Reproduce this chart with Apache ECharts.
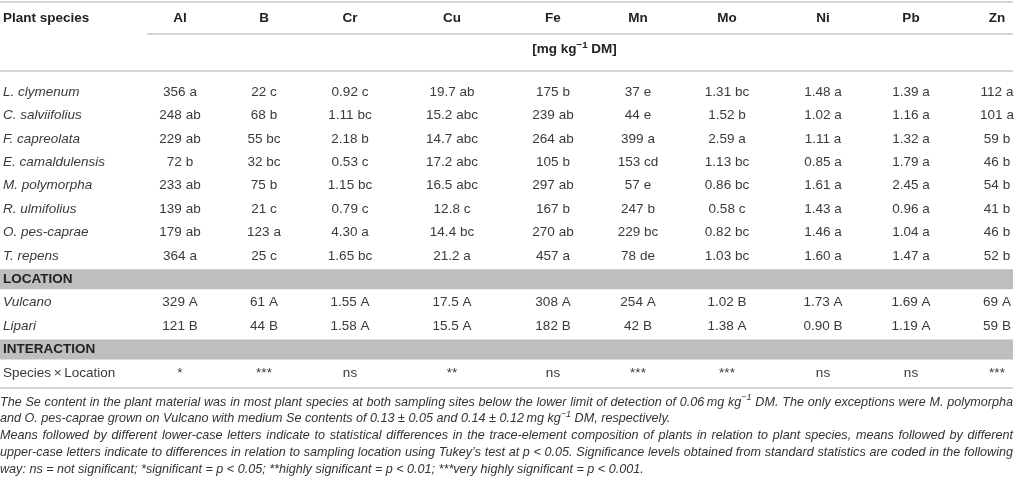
<!DOCTYPE html>
<html><head><meta charset="utf-8">
<script src="https://cdn.jsdelivr.net/npm/echarts@6/dist/echarts.min.js"></script>
<style>html,body{margin:0;padding:0;background:#fff}#c{width:1016px;height:490px}</style>
</head><body><div id="c"></div>
<script>
// ---------------- data ----------------
const headerLabel = 'Plant species';
const elements = ['Al','B','Cr','Cu','Fe','Mn','Mo','Ni','Pb','Zn'];
const unitSegments = [['[mg kg',''],['−1','sup'],[' DM]','']];
const species = ['L. clymenum','C. salviifolius','F. capreolata','E. camaldulensis','M. polymorpha','R. ulmifolius','O. pes-caprae','T. repens'];
const speciesValues = [
  ['356 a','22 c','0.92 c','19.7 ab','175 b','37 e','1.31 bc','1.48 a','1.39 a','112 a'],
  ['248 ab','68 b','1.11 bc','15.2 abc','239 ab','44 e','1.52 b','1.02 a','1.16 a','101 a'],
  ['229 ab','55 bc','2.18 b','14.7 abc','264 ab','399 a','2.59 a','1.11 a','1.32 a','59 b'],
  ['72 b','32 bc','0.53 c','17.2 abc','105 b','153 cd','1.13 bc','0.85 a','1.79 a','46 b'],
  ['233 ab','75 b','1.15 bc','16.5 abc','297 ab','57 e','0.86 bc','1.61 a','2.45 a','54 b'],
  ['139 ab','21 c','0.79 c','12.8 c','167 b','247 b','0.58 c','1.43 a','0.96 a','41 b'],
  ['179 ab','123 a','4.30 a','14.4 bc','270 ab','229 bc','0.82 bc','1.46 a','1.04 a','46 b'],
  ['364 a','25 c','1.65 bc','21.2 a','457 a','78 de','1.03 bc','1.60 a','1.47 a','52 b']
];
const sectionTitles = ['LOCATION','INTERACTION'];
const locations = ['Vulcano','Lipari'];
const locationValues = [
  ['329 A','61 A','1.55 A','17.5 A','308 A','254 A','1.02 B','1.73 A','1.69 A','69 A'],
  ['121 B','44 B','1.58 A','15.5 A','182 B','42 B','1.38 A','0.90 B','1.19 A','59 B']
];
const interactionLabel = 'Species\u2009×\u2009Location';
const interactionValues = ['*','***','ns','**','ns','***','***','ns','ns','***'];
const footnoteLines = [
  'The Se content in the plant material was in most plant species at both sampling sites below the lower limit of detection of 0.06\u2009mg kg^{−1} DM. The only exceptions were M. polymorpha',
  'and O. pes-caprae grown on Vulcano with medium Se contents of 0.13 ± 0.05 and 0.14 ± 0.12\u2009mg kg^{−1} DM, respectively.',
  'Means followed by different lower-case letters indicate to statistical differences in the trace-element composition of plants in relation to plant species, means followed by different',
  'upper-case letters indicate to differences in relation to sampling location using Tukey\u2019s test at p < 0.05. Significance levels obtained from standard statistics are coded in the following',
  'way: ns = not significant; *significant = p < 0.05; **highly significant = p < 0.01; ***very highly significant = p < 0.001.'
];

// ---------------- layout / style ----------------
const FAM = '"Liberation Sans", Arial, Helvetica, sans-serif';
const FS = 13.5;
const W = 1016;
const colWidths = [136, 88, 80, 92, 112, 90, 80, 98, 94, 82, 90];
const tableRight = 1013;
const rowH = 23.4, bodyTop = 80.3;
const footTop = 402, footStep = 16.75, footFS = 12.6;
const footJustify = [true, false, true, true, false];
const textColor = '#3a3a3a', headColor = '#222', ruleColor = '#c6c6c6', bandColor = '#bdbec0';

const colEdges = [0];
colWidths.forEach(w => colEdges.push(colEdges[colEdges.length - 1] + w));
const colCenters = elements.map((_, i) => (colEdges[i + 1] + colEdges[i + 2]) / 2);

const rowNames = [...species, sectionTitles[0], ...locations, sectionTitles[1], interactionLabel];
const bodyRows = [];
species.forEach((s, i) => bodyRows.push(speciesValues[i]));
bodyRows.push(null);
locations.forEach((s, i) => bodyRows.push(locationValues[i]));
bodyRows.push(null);
bodyRows.push(interactionValues);

const cellData = [], cellText = [], bandData = [];
bodyRows.forEach((vals, r) => {
  if (!vals) { bandData.push([0, r]); return; }
  vals.forEach((t, c) => { cellData.push([colCenters[c], r]); cellText.push(t); });
});
const headData = elements.map((e, c) => [colCenters[c], 0]);

// ---------------- measurement helpers ----------------
const mctx = document.createElement('canvas').getContext('2d');
function mw(text, font) { mctx.font = font; return mctx.measureText(text).width; }

function runElements(segs, x, y, opts) {
  const base = `${opts.style} ${opts.weight} ${opts.size}px ${FAM}`;
  const sup = `${opts.style} ${opts.weight} ${opts.size * 0.72}px ${FAM}`;
  const out = [];
  let cx = x;
  segs.forEach(([t, k]) => {
    const f = k === 'sup' ? sup : base;
    out.push({ type: 'text', x: cx, y: k === 'sup' ? y - opts.size * 0.33 : y,
      style: { text: t, font: f, fill: opts.color, align: 'left', verticalAlign: 'middle' } });
    cx += mw(t, f);
  });
  return { els: out, width: cx - x };
}
function parseWord(w) {
  const segs = [];
  const re = /\^\{([^}]*)\}/g; let last = 0, m;
  while ((m = re.exec(w))) {
    if (m.index > last) segs.push([w.slice(last, m.index), '']);
    segs.push([m[1], 'sup']); last = re.lastIndex;
  }
  if (last < w.length) segs.push([w.slice(last), '']);
  return segs;
}

const footOpts = { style: 'italic', weight: 'normal', size: footFS, color: '#333' };
const footEls = [];
footnoteLines.forEach((line, i) => {
  const y = footTop + i * footStep;
  const words = line.split(' ').map(parseWord);
  const widths = words.map(s => runElements(s, 0, 0, footOpts).width);
  const sumW = widths.reduce((a, b) => a + b, 0);
  const baseFont = `italic normal ${footFS}px ${FAM}`;
  const sp = mw(' ', baseFont);
  const gap = footJustify[i] ? Math.max(sp * 0.6, (tableRight - sumW) / (words.length - 1)) : sp;
  let x = 0;
  words.forEach((s, k) => {
    footEls.push(...runElements(s, x, y, footOpts).els);
    x += widths[k] + gap;
  });
});

const unitOpts = { style: 'normal', weight: 'bold', size: FS, color: headColor };

function rule(y, x1, x2) {
  return { type: 'line', shape: { x1, y1: y, x2, y2: y }, style: { stroke: ruleColor, lineWidth: 1.6 }, silent: true };
}

const chart = echarts.init(document.getElementById('c'), null, { renderer: 'canvas' });
const labelRich = {
  it: { fontStyle: 'italic', fontSize: FS, fontFamily: FAM, color: textColor },
  b: { fontWeight: 'bold', fontSize: FS, fontFamily: FAM, color: headColor },
  n: { fontSize: FS, fontFamily: FAM, color: textColor }
};
const hiddenAxis = { axisLine: { show: false }, axisTick: { show: false }, splitLine: { show: false } };

chart.setOption({
  animation: false,
  grid: [
    { left: 0, top: 3, width: W, height: 62 },
    { left: 0, top: bodyTop, width: W, height: rowH * rowNames.length }
  ],
  xAxis: [
    { gridIndex: 0, type: 'value', min: 0, max: W, show: false },
    { gridIndex: 1, type: 'value', min: 0, max: W, show: false }
  ],
  yAxis: [
    { gridIndex: 0, type: 'category', inverse: true, data: [headerLabel, ''], ...hiddenAxis,
      axisLabel: { inside: true, margin: 3, align: 'left', interval: 0,
        formatter: v => v ? `{b|${v}}` : '', rich: labelRich } },
    { gridIndex: 1, type: 'category', inverse: true, data: rowNames, z: 10, ...hiddenAxis,
      axisLabel: { inside: true, margin: 3, align: 'left', interval: 0,
        formatter: v => sectionTitles.includes(v) ? `{b|${v}}` : (v === interactionLabel ? `{n|${v}}` : `{it|${v}}`),
        rich: labelRich } }
  ],
  series: [
    { type: 'custom', xAxisIndex: 0, yAxisIndex: 0, data: headData, silent: true,
      renderItem: (p, api) => {
        const pt = api.coord([api.value(0), api.value(1)]);
        const els = [{ type: 'text', x: pt[0], y: pt[1], style: { text: elements[p.dataIndex],
          font: `bold ${FS}px ${FAM}`, fill: headColor, align: 'center', verticalAlign: 'middle' } }];
        if (p.dataIndex === 0) {
          const u = api.coord([0, 1]);
          const cxMid = (colEdges[1] + tableRight) / 2;
          const r0 = runElements(unitSegments, 0, 0, unitOpts);
          const r = runElements(unitSegments, cxMid - r0.width / 2, u[1], unitOpts);
          els.push(...r.els);
        }
        return { type: 'group', children: els };
      } },
    { type: 'custom', xAxisIndex: 1, yAxisIndex: 1, data: bandData, silent: true, z: 1,
      renderItem: (p, api) => {
        const pt = api.coord([0, api.value(1)]);
        return { type: 'rect', shape: { x: 0, y: pt[1] - 10, width: tableRight, height: 20 },
          style: { fill: bandColor } };
      } },
    { type: 'custom', xAxisIndex: 1, yAxisIndex: 1, data: cellData, silent: true, z: 3,
      renderItem: (p, api) => {
        const pt = api.coord([api.value(0), api.value(1)]);
        return { type: 'text', x: pt[0], y: pt[1], style: { text: cellText[p.dataIndex],
          font: `${FS}px ${FAM}`, fill: textColor, align: 'center', verticalAlign: 'middle' } };
      } }
  ],
  graphic: [
    rule(2, 0, tableRight),
    rule(34, 147, tableRight),
    rule(71, 0, tableRight),
    rule(388, 0, tableRight),
    { type: 'group', children: footEls, silent: true }
  ]
});
</script></body></html>
